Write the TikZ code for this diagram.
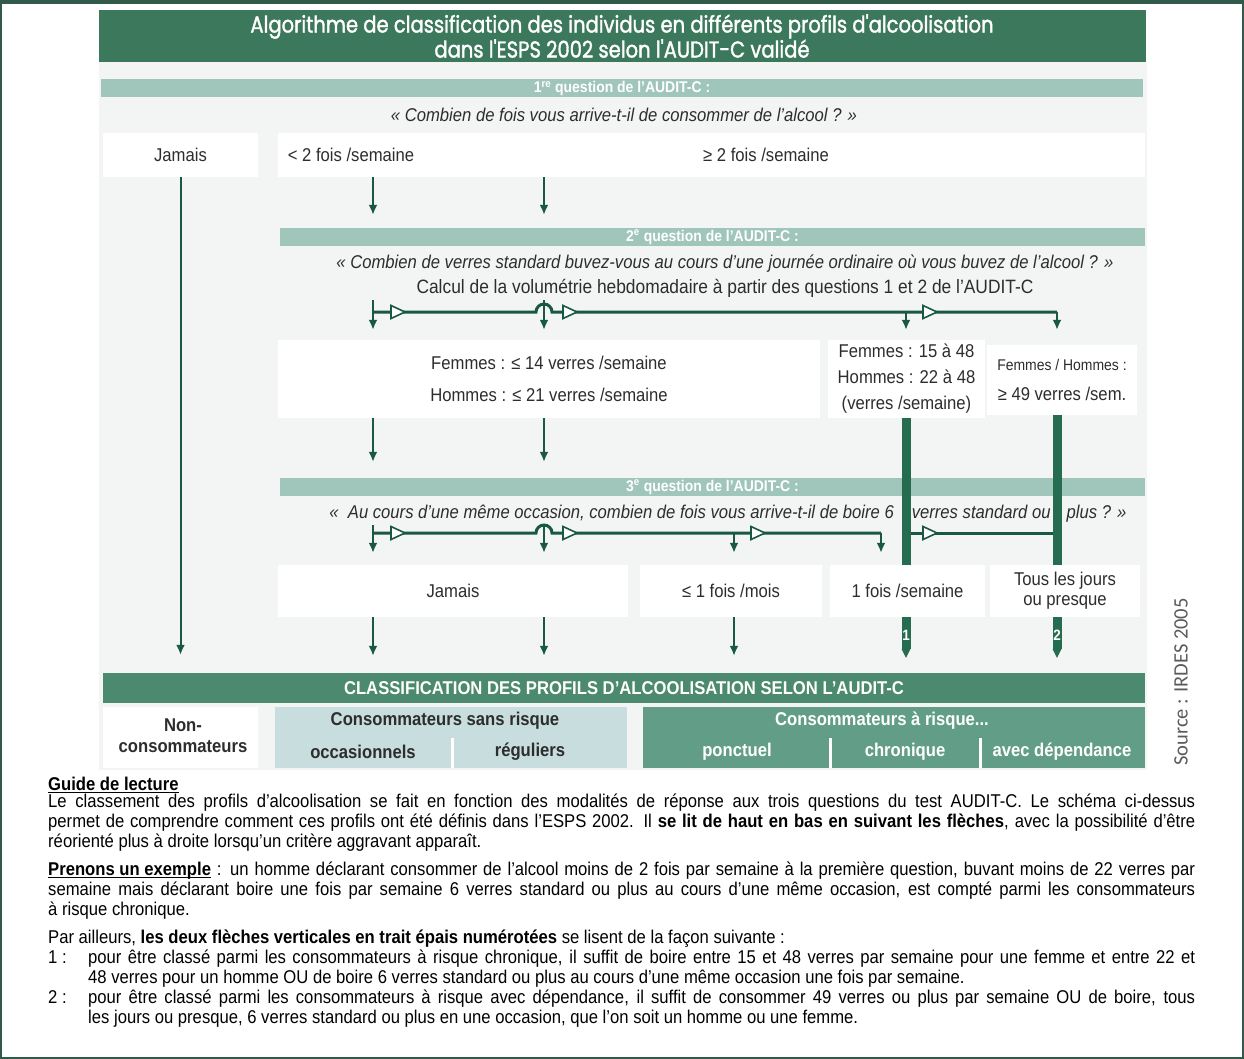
\documentclass[tikz,border=0pt]{standalone}
\usepackage{fontspec}
\setmainfont{Liberation Sans}[FakeStretch=0.9]
\newfontfamily\titlefont{Poppins}[FakeStretch=0.85, FakeBold=1.5]
\newfontfamily\sourcefont{Carlito}
\usepackage{tikz}
\usetikzlibrary{arrows.meta}

\definecolor{titlegreen}{RGB}{60,120,92}
\definecolor{bandgreen}{RGB}{160,198,187}
\definecolor{flowgreen}{RGB}{24,88,68}
\definecolor{bargreen}{RGB}{38,108,80}
\definecolor{clsgreen}{RGB}{75,138,110}
\definecolor{safeblue}{RGB}{200,221,222}
\definecolor{riskgreen}{RGB}{98,158,135}
\definecolor{panelgray}{RGB}{243,244,244}
\definecolor{inkgray}{RGB}{45,45,45}
\definecolor{srcgray}{RGB}{90,90,90}
\definecolor{framegreen}{RGB}{50,90,75}

% close underline for the reading guide headings
\newcommand{\guideul}[1]{\leavevmode\setbox0\hbox{#1}\rlap{\rule[-2.5pt]{\wd0}{1.1pt}}\box0}

\tikzset{
	titleband/.style = {fill=titlegreen, text=white, align=center, inner sep=0pt,
		minimum width=1047pt, minimum height=52pt, font=\titlefont\fontsize{23}{25}\selectfont},
	band/.style      = {fill=bandgreen, text=white, inner sep=0pt, minimum height=18pt,
		font=\bfseries\fontsize{15.5}{15.5}\selectfont},
	clsband/.style   = {fill=clsgreen, text=white, inner sep=0pt, minimum height=30pt,
		font=\bfseries\fontsize{18.5}{18.5}\selectfont},
	question/.style  = {text=inkgray, inner sep=0pt, font=\itshape\fontsize{18.5}{18.5}\selectfont},
	answer/.style    = {fill=white, text=inkgray, align=center, inner sep=0pt,
		font=\fontsize{18.5}{20}\selectfont},
	boxtext/.style   = {text=inkgray, inner sep=0pt, font=\fontsize{18.5}{20}\selectfont},
	profile/.style   = {inner sep=0pt, align=center, font=\bfseries\fontsize{18.5}{21}\selectfont},
	col/.style       = {coordinate},
	flow/.style      = {draw=flowgreen, line width=2pt, -{Latex[length=10pt,width=9pt]}},
	hflow/.style     = {draw=flowgreen, line width=3pt},
	fatbar/.style    = {draw=bargreen, line width=9pt},
	fattip/.style    = {fatbar, -{Triangle[length=9pt,width=9pt,line width=0pt]}},
	barnum/.style    = {text=white, inner sep=0pt, font=\bfseries\fontsize{15}{15}\selectfont},
	divider/.style   = {draw=white, line width=3pt},
	flowtri/.pic     = {\filldraw[draw=flowgreen, fill=white, line width=1.6pt]
		(-7,6.5) -- (7,0) -- (-7,-6.5) -- cycle;}
}

\begin{document}
\begin{tikzpicture}[x=1pt, y=1pt]
	\useasboundingbox (0,0) rectangle (1244,-1059);
	% frame and light panel behind the diagram
	\fill[panelgray] (99,-62) rectangle (1147,-770);
	\draw[framegreen, line width=1.2pt] (1,-1) rectangle (1243,-1058);
	\draw[framegreen, line width=2.5pt] (0,-3) -- (1244,-3);

	% columns of the flow
	\coordinate (c1) at (373,0);
	\coordinate (c2) at (544,0);
	\coordinate (c3) at (734,0);
	\coordinate (c4) at (881,0);
	\coordinate (c5) at (906,0);
	\coordinate (c6) at (1057,0);
	\coordinate (hr2) at (0,-312);
	\coordinate (hr3) at (0,-533);
	\coordinate (hop2) at (536,-312);
	\coordinate (hop3) at (536,-533);

	\draw
	% title and first question
	node at (622,-36)[titleband] (title) {Algorithme de classification des individus en différents profils d'alcoolisation\\dans l'ESPS 2002 selon l'AUDIT-C validé}
	node at (622,-88.5)[band, minimum width=1042pt] (q1) {1\textsuperscript{re} question de l'AUDIT-C :}
	node at (624,-115)[question] (q1txt) {« Combien de fois vous arrive-t-il de consommer de l'alcool ? »}
	node at (180.5,-155)[answer, minimum width=155pt, minimum height=44pt] (a1never) {Jamais}
	node at (711.5,-155)[answer, minimum width=867pt, minimum height=44pt] (a1box) {}
	node at (351,-155)[boxtext] (a1lt) {< 2 fois /semaine}
	node at (766,-155)[boxtext] (a1ge) {≥ 2 fois /semaine}
	% second question
	node at (712.5,-237)[band, minimum width=865pt] (q2) {2\textsuperscript{e} question de l'AUDIT-C :}
	node at (725,-264)[question] (q2txt) {« Combien de verres standard buvez-vous au cours d'une journée ordinaire où vous buvez de l'alcool ? »}
	node at (725,-288)[boxtext, font=\fontsize{19.3}{20}\selectfont] (calc) {Calcul de la volumétrie hebdomadaire à partir des questions 1 et 2 de l'AUDIT-C}
	node at (549,-379)[answer, minimum width=542pt, minimum height=78pt, font=\fontsize{18.5}{32}\selectfont] (b2low) {Femmes : ≤ 14 verres /semaine\\Hommes : ≤ 21 verres /semaine}
	node at (906.5,-379)[answer, minimum width=157pt, minimum height=78pt, font=\fontsize{18.5}{26}\selectfont] (b2mid) {Femmes : 15 à 48\\Hommes : 22 à 48\\(verres /semaine)}
	node at (1062,-380)[answer, minimum width=150pt, minimum height=70pt, font=\fontsize{18.5}{30}\selectfont] (b2high) {{\fontsize{15.5}{30}\selectfont Femmes / Hommes :}\\≥ 49 verres /sem.}
	% third question
	node at (728,-514)[question] (q3txt) {«\ \ Au cours d'une même occasion, combien de fois vous arrive-t-il de boire 6\hspace{18pt}verres standard ou\hspace{16pt}plus ? »}
	node at (712.5,-487)[band, minimum width=865pt] (q3) {3\textsuperscript{e} question de l'AUDIT-C :}
	node at (453,-591)[answer, minimum width=350pt, minimum height=52pt] (b3never) {Jamais}
	node at (731,-591)[answer, minimum width=182pt, minimum height=52pt] (b3month) {≤ 1 fois /mois}
	node at (907.5,-591)[answer, minimum width=155pt, minimum height=52pt] (b3week) {1 fois /semaine}
	node at (1065,-591)[answer, minimum width=150pt, minimum height=52pt] (b3daily) {Tous les jours\\ou presque}
	% classification
	node at (624,-688)[clsband, minimum width=1042pt] (cls) {CLASSIFICATION DES PROFILS D'ALCOOLISATION SELON L'AUDIT-C}
	node at (180.5,-737.5)[fill=white, minimum width=155pt, minimum height=61pt] (nonc) {}
	node at (451,-737.5)[fill=safeblue, minimum width=352pt, minimum height=61pt] (sansr) {}
	node at (894,-737.5)[fill=riskgreen, minimum width=502pt, minimum height=61pt] (risk) {}
	node at (183,-736)[profile, text=inkgray] (nonct) {Non-\\consommateurs}
	node at (445,-721)[profile, text=inkgray] (sansrt) {Consommateurs sans risque}
	node at (363,-752)[profile, text=inkgray] (occ) {occasionnels}
	node at (530,-752)[profile, text=inkgray] (reg) {réguliers}
	node at (882,-721)[profile, text=white] (riskt) {Consommateurs à risque...}
	node at (737,-752)[profile, text=white] (punct) {ponctuel}
	node at (905,-752)[profile, text=white] (chron) {chronique}
	node at (1062,-752)[profile, text=white] (dep) {avec dépendance}
	node at (1181,-682)[rotate=90, text=srcgray, inner sep=0pt, font=\sourcefont\fontsize{20.5}{20.5}\selectfont] (source) {Source : IRDES 2005}
	;

	% dividers in the profile boxes
	\draw[divider] (452,-738) -- (452,-768);
	\draw[divider] (830,-738) -- (830,-768);
	\draw[divider] (980,-738) -- (980,-768);

	% first question
	\draw[flow, shorten >=18pt] (a1never.south) -- (cls.north -| a1never.south);
	\draw[flow, shorten >=13pt] (a1box.south -| c1) -- (q2.north -| c1);
	\draw[flow, shorten >=13pt] (a1box.south -| c2) -- (q2.north -| c2);

	% weekly volume
	\draw[hflow] (c1 |- hr2) -- (hop2) arc[start angle=180, end angle=0, radius=8] -- (c6 |- hr2);
	\draw[flow, shorten <=3pt, shorten >=10pt] (calc.south -| c1) -- (b2low.north -| c1);
	\draw[flow, shorten <=3pt, shorten >=10pt] (calc.south -| c2) -- (b2low.north -| c2);
	\draw[flow, shorten >=10pt] (c5 |- hr2) -- (b2mid.north -| c5);
	\draw[flow, shorten >=15pt] (c6 |- hr2) -- (b2high.north -| c6);
	\pic at (398,-312) {flowtri};
	\pic at (570,-312) {flowtri};
	\pic at (930,-312) {flowtri};
	\draw[flow, shorten >=16pt] (b2low.south -| c1) -- (q3.north -| c1);
	\draw[flow, shorten >=16pt] (b2low.south -| c2) -- (q3.north -| c2);

	% binge drinking
	\draw[hflow] (c1 |- hr3) -- (hop3) arc[start angle=180, end angle=0, radius=8] -- (c4 |- hr3);
	\draw[hflow] (c5 |- hr3) -- (c6 |- hr3);
	\draw[flow, shorten <=2pt, shorten >=12pt] (q3txt.south -| c1) -- (b3never.north -| c1);
	\draw[flow, shorten <=2pt, shorten >=12pt] (q3txt.south -| c2) -- (b3never.north -| c2);
	\draw[flow, shorten >=12pt] (c3 |- hr3) -- (b3month.north -| c3);
	\draw[flow, shorten >=12pt] (c4 |- hr3) -- (b3week.north -| c4);
	\pic at (398,-533) {flowtri};
	\pic at (570,-533) {flowtri};
	\pic at (758,-533) {flowtri};
	\pic at (930,-533) {flowtri};
	\draw[fatbar] (b2mid.south -| c5) -- (b3week.north -| c5);
	\draw[fatbar] (b2high.south -| c6) -- (b3daily.north -| c6);

	% down to the profiles
	\draw[flow, shorten >=17pt] (b3never.south -| c1) -- (cls.north -| c1);
	\draw[flow, shorten >=17pt] (b3never.south -| c2) -- (cls.north -| c2);
	\draw[flow, shorten >=17pt] (b3month.south -| c3) -- (cls.north -| c3);
	\draw[fattip, shorten >=15pt] (b3week.south -| c5) -- node[pos=0.33, barnum] (n1) {1} (cls.north -| c5);
	\draw[fattip, shorten >=15pt] (b3daily.south -| c6) -- node[pos=0.33, barnum] (n2) {2} (cls.north -| c6);

	% reading guide
	\draw
	node at (48,-777)[anchor=north west, text width=1147pt, align=justify, inner sep=0pt, text=black,
		font=\fontsize{18.5}{20}\selectfont] (guide) {\parindent=0pt\hyphenpenalty=10000\exhyphenpenalty=10000
		\guideul{\textbf{Guide de lecture}}\par\vspace{-3pt}
		Le classement des profils d'alcoolisation se fait en fonction des modalités de réponse aux trois questions du test AUDIT-C. Le schéma ci-dessus\linebreak
		permet de comprendre comment ces profils ont été définis dans l'ESPS 2002. Il \textbf{se lit de haut en bas en suivant les flèches}, avec la possibilité d'être\linebreak
		réorienté plus à droite lorsqu'un critère aggravant apparaît.\par\vspace{8pt}
		\guideul{\textbf{Prenons un exemple}}~: un homme déclarant consommer de l'alcool moins de 2 fois par semaine à la première question, buvant moins de 22 verres par\linebreak
		semaine mais déclarant boire une fois par semaine 6 verres standard ou plus au cours d'une même occasion, est compté parmi les consommateurs\linebreak
		à risque chronique.\par\vspace{8pt}
		Par ailleurs, \textbf{les deux flèches verticales en trait épais numérotées} se lisent de la façon suivante~:\par
		\hangindent=40pt\hangafter=1\noindent\makebox[40pt][l]{1~:}pour être classé parmi les consommateurs à risque chronique, il suffit de boire entre 15 et 48 verres par semaine pour une femme et entre 22 et\linebreak
		48 verres pour un homme OU de boire 6 verres standard ou plus au cours d'une même occasion une fois par semaine.\par
		\hangindent=40pt\hangafter=1\noindent\makebox[40pt][l]{2~:}pour être classé parmi les consommateurs à risque avec dépendance, il suffit de consommer 49 verres ou plus par semaine OU de boire, tous\linebreak
		les jours ou presque, 6 verres standard ou plus en une occasion, que l'on soit un homme ou une femme.\par};
\end{tikzpicture}
\end{document}
